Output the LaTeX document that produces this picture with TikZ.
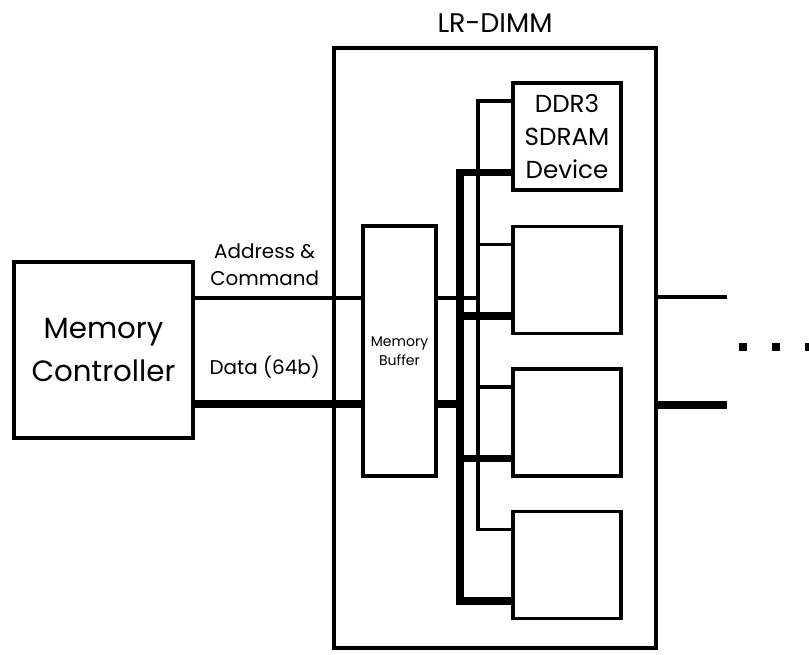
\documentclass[tikz,border=0pt]{standalone}
\usepackage{fontspec}
\setmainfont{Poppins}
\usetikzlibrary{positioning}

\begin{document}
\begin{tikzpicture}[x=0.03cm, y=-0.03cm,
    box/.style={draw, line width=3pt, inner sep=0pt, align=center},
    thinbus/.style={line width=3pt},
    thickbus/.style={line width=6pt},
    lbl/.style={align=center, font=\fontsize{17}{23}\selectfont}]
    \useasboundingbox (0,0) rectangle (809,655);
    % Controller, Modul und Puffer:
    \node[box, minimum width=5.37cm, minimum height=5.28cm,
          font=\fontsize{25}{36}\selectfont] (mc) at (103.5,350) {Memory\\Controller};
    \node[box, minimum width=9.66cm, minimum height=18cm] (dimm) at (495,348) {};
    \node[font=\fontsize{23}{28}\selectfont, above=0.3cm of dimm] (title) {LR-DIMM};
    \node[box, minimum width=2.19cm, minimum height=7.5cm,
          font=\fontsize{12}{16}\selectfont] (buf) at (399.5,351) {Memory\\Buffer};
    % DRAM-Bausteine:
    \foreach \i/\y in {1/136.5, 2/280, 3/422.5, 4/565} {
        \node[box, minimum width=3.24cm, minimum height=3.21cm] (d\i) at (567,\y) {};
        \coordinate (a\i) at ([yshift=1.065cm]d\i.west); % Adresse
        \coordinate (b\i) at ([yshift=-1.08cm]d\i.west); % Daten
    }
    \node[font=\fontsize{21}{28}\selectfont, align=center] at (d1) {DDR3\\SDRAM\\Device};
    \coordinate (abus) at (478,0);
    \coordinate (dbus) at (460,0);
    \coordinate (out) at (727,0);
    % Adressbus:
    \draw[thinbus] (mc.east |- 0,298) -- (buf.west |- 0,298)
        node[lbl, pos=0.42, above=0.2cm] (addr) {Address \&\\Command};
    \draw[thinbus] (buf.east |- 0,298) -- (abus |- 0,298);
    \draw[thinbus] (a1) -- (a1 -| abus) -- (a4 -| abus) -- (a4);
    \draw[thinbus] (a2) -- (a2 -| abus);
    \draw[thinbus] (a3) -- (a3 -| abus);
    % Datenbus:
    \draw[thickbus] (mc.east |- 0,404) -- (buf.west |- 0,404)
        node[lbl, pos=0.42, above=0.55cm] (data) {Data (64b)};
    \draw[thickbus] (buf.east |- 0,404) -- (dbus |- 0,404);
    \draw[thickbus] (b1) -- (b1 -| dbus) -- (b4 -| dbus) -- (b4);
    \draw[thickbus] (b2) -- (b2 -| dbus);
    \draw[thickbus] (b3) -- (b3 -| dbus);
    % weiter zum naechsten Modul:
    \draw[thinbus] (dimm.east |- 0,297) -- (out |- 0,297);
    \draw[thickbus] (dimm.east |- 0,405) -- (out |- 0,405);
    \foreach \x in {739, 772, 805}
        \fill (\x,343) rectangle ++(8,8);
\end{tikzpicture}
\end{document}
